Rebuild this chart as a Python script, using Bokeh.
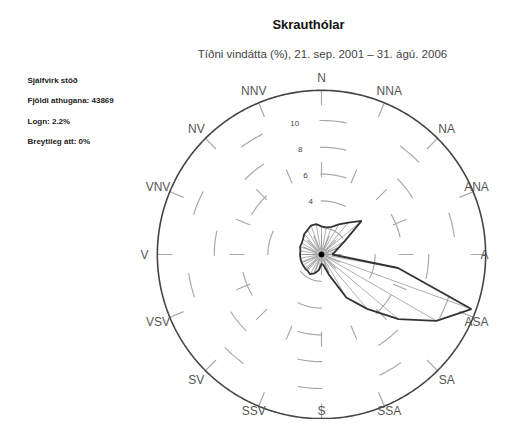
import numpy as np
from bokeh.plotting import figure
from bokeh.models import Range1d
from bokeh.embed import file_html
from bokeh.resources import INLINE
from bokeh.core.properties import value

# ---------------- data ----------------
directions = list(range(0, 360, 10))          # degrees, clockwise from north
frequency = [2.1, 2.05, 2.2, 2.6, 3.1, 3.9, 2.0, 1.3, 1.0, 0.8,
             5.8, 11.9, 9.9, 7.5, 5.3, 3.7, 1.6, 0.8, 0.7, 1.2,
             1.5, 1.7, 1.6, 1.6, 1.6, 1.6, 1.6, 1.6, 1.6, 1.7,
             1.7, 1.8, 2.0, 2.1, 2.3, 2.3]     # % of observations
compass_labels = ["N", "NNA", "NA", "ANA", "A", "ASA", "SA", "SSA",
                  "S", "SSV", "SV", "VSV", "V", "VNV", "NV", "NNV"]
ring_values = [2, 4, 6, 8, 10]
ring_label_values = [4, 6, 8, 10]
outer_value = 12.25

title = "Skrauthólar"
subtitle = "Tíðni vindátta (%), 21. sep. 2001 – 31. ágú. 2006"
info_lines = ["Sjálfvirk stöð", "Fjöldi athugana: 43869", "Logn: 2.2%", "Breytileg átt: 0%"]

# ---------------- layout ----------------
W, H = 492, 419
S = 13.4            # pixels per percent
CX, CY = 321, 254   # centre in figure pixels (from top-left)
FONT = value("Liberation Sans")

def px(X, Y):
    return (X - CX) / S, (CY - Y) / S

p = figure(width=W, height=H, output_backend="svg", toolbar_location=None,
           x_range=Range1d(-CX / S, (W - CX) / S), y_range=Range1d((CY - H) / S, CY / S),
           min_border=0)
p.axis.visible = False
p.grid.visible = False
p.outline_line_color = None
p.background_fill_color = "white"

theta = np.radians(np.linspace(0, 360, 721))
# dashed rings (start at north, clockwise)
ring_xs = [list(r * np.sin(theta)) for r in ring_values]
ring_ys = [list(r * np.cos(theta)) for r in ring_values]
p.multi_line(ring_xs, ring_ys, line_color="#a8a8a8", line_width=1.2, line_dash="25 59")

# dashed spokes (drawn from outside inwards)
sp_ang = np.radians(np.arange(16) * 22.5)
p.segment(x0=outer_value * np.sin(sp_ang), y0=outer_value * np.cos(sp_ang),
          x1=0 * sp_ang, y1=0 * sp_ang, line_color="#a8a8a8", line_width=1.2, line_dash="15 57")

# outer circle
p.line(list(outer_value * np.sin(theta)), list(outer_value * np.cos(theta)),
       line_color="#444444", line_width=1.6)

# ring labels
lab_ang = np.radians(-11.5)
p.text(x=[v * np.sin(lab_ang) for v in ring_label_values],
       y=[v * np.cos(lab_ang) for v in ring_label_values],
       text=[str(v) for v in ring_label_values], text_font=FONT, text_font_size="8px",
       text_color="#444444", text_align="center", text_baseline="middle")

# rose
ang = np.radians(directions)
fx = np.array(frequency) * np.sin(ang)
fy = np.array(frequency) * np.cos(ang)
p.segment(x0=0 * fx, y0=0 * fy, x1=fx, y1=fy, line_color="#9a9a9a", line_width=0.8)
p.patch(list(fx), list(fy), fill_color=None, line_color="#333333", line_width=1.8)
p.scatter([0], [0], size=5, color="black")

# compass labels (edge labels nudged to stay inside the canvas)
lr = 177 / S
ca = np.radians(np.arange(16) * 22.5)
lx = list(lr * np.sin(ca))
ly = list(lr * np.cos(ca))
lx[3] = px(476, 0)[0]
lx[4] = px(484, 0)[0]
lx[5] = px(476, 0)[0]
for k in (7, 8, 9):
    ly[k] = px(0, 410)[1]
p.text(x=lx, y=ly, text=compass_labels,
       text_font=FONT, text_font_size="12px", text_color="#555555",
       text_align="center", text_baseline="middle")

# titles
tx, ty = px(308, 24)
p.text(x=[tx], y=[ty], text=[title], text_font=FONT, text_font_size="13px",
       text_font_style="bold", text_color="#111111", text_align="center", text_baseline="middle")
sx, sy = px(322, 53)
p.text(x=[sx], y=[sy], text=[subtitle], text_font=FONT, text_font_size="11.5px",
       text_color="#444444", text_align="center", text_baseline="middle")

# info block
ix = px(27, 0)[0]
iy = [px(0, 80 + 20.3 * i)[1] for i in range(len(info_lines))]
p.text(x=[ix] * len(info_lines), y=iy, text=info_lines, text_font=FONT, text_font_size="8px",
       text_font_style="bold", text_color="#222222", text_align="left", text_baseline="middle")

open("out.html", "w").write(file_html(p, INLINE))
